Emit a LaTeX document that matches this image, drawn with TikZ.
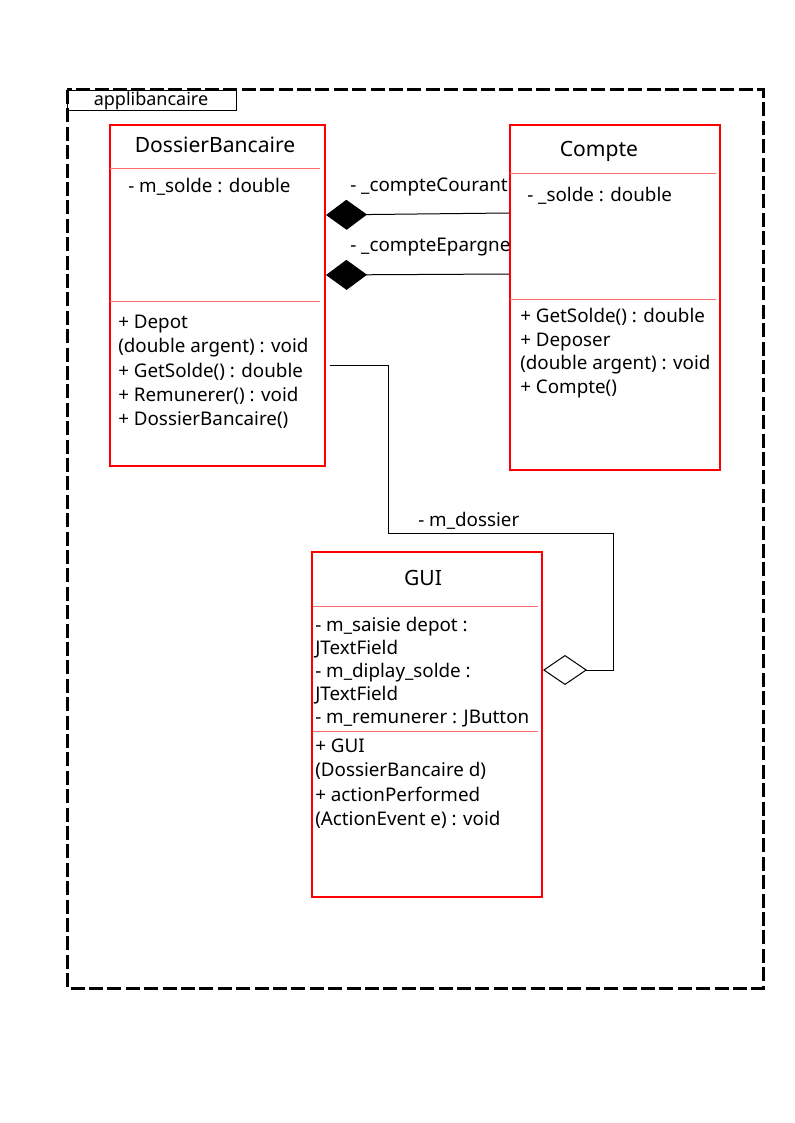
\documentclass[tikz,border=0pt]{standalone}
\usepackage{fontspec}
\setmainfont{Noto Sans}
\usetikzlibrary{arrows.meta}
\usetikzlibrary{calc}
\definecolor{umlred}{RGB}{255,0,0}
\definecolor{seplight}{RGB}{255,110,110}

\begin{document}
\begin{tikzpicture}[x=0.75pt,y=-0.75pt,
		classbox/.style={draw=umlred,line width=1.5pt,anchor=north west,inner sep=0pt},
		member/.style={anchor=base west,inner sep=0pt,font=\fontsize{14.1}{18}\selectfont},
		ctitle/.style={anchor=base,inner sep=0pt,font=\fontsize{15.8}{18}\selectfont},
		sepline/.style={draw=seplight,line width=0.75pt},
		comp/.style={line width=0.75pt,-{Diamond[length=30.75pt,width=22.5pt,fill=black]}},
		aggr/.style={line width=0.75pt,-{Diamond[open,length=33pt,width=22.5pt,fill=white]}}]
		\useasboundingbox (0,0) rectangle (794,1123);
		
		% package
		\draw[line width=2.25pt,dash pattern=on 10.5pt off 3.3pt] (67,90) rectangle (763,988);
		\node[draw,line width=0.75pt,anchor=north west,minimum width=126.75pt,minimum height=15pt,
		inner sep=0pt] (pkgtab) at (67,90) {};
		\node[anchor=base,inner sep=0pt,font=\fontsize{13.5}{16}\selectfont] (pkgname) at (151,106) {applibancaire};
		
		% DossierBancaire
		\node[classbox,minimum width=161.25pt,minimum height=255.75pt] (dossier) at (109,124) {};
		\node[ctitle] (dossiertitle) at (215,153) {DossierBancaire};
		\draw[sepline] (110,169) -- (320,169);
		\node[member] (dossierattr) at (128,193) {- m\_solde : double};
		\draw[sepline] (110,301) -- (320,301);
		\foreach \y/\txt [count=\i] in {328/+ Depot,352.5/(double argent) : void,
			377/+ GetSolde() : double,401/+ Remunerer() : void,425.5/+ DossierBancaire()}
		\node[member] (dossierop\i) at (118,\y) {\txt};
		
		% Compte
		\node[classbox,minimum width=157.5pt,minimum height=258.75pt] (compte) at (509,124) {};
		\node[ctitle] (comptetitle) at (599,157) {Compte};
		\draw[sepline] (510,174) -- (716,174);
		\node[member] (compteattr) at (527,202) {- \_solde : double};
		\draw[sepline] (510,299) -- (716,299);
		\foreach \y/\txt [count=\i] in {322/+ GetSolde() : double,346/+ Deposer,
			369.5/(double argent) : void,393/+ Compte()}
		\node[member] (compteop\i) at (520,\y) {\txt};
		
		% GUI
		\node[classbox,minimum width=172.5pt,minimum height=258.75pt] (gui) at (311,551) {};
		\node[ctitle] (guititle) at (423,585) {GUI};
		\draw[sepline] (313,606) -- (538,606);
		\foreach \y/\txt [count=\i] in {631.5/- m\_saisie depot :,654.5/JTextField,
			677.5/- m\_diplay\_solde :,700.5/JTextField,723.5/- m\_remunerer : JButton}
		\node[member] (guiattr\i) at (315,\y) {\txt};
		\draw[sepline] (313,731) -- (538,731);
		\foreach \y/\txt [count=\i] in {752/+ GUI,776.5/(DossierBancaire d),
			801/+ actionPerformed,825.5/(ActionEvent e) : void}
		\node[member] (guiop\i) at (315,\y) {\txt};
		
		% compositions
		\draw[comp] ($(compte.north west)+(0,89)$) -- ($(dossier.north east)+(0,91)$);
		\node[member] (courantlbl) at (350,192) {- \_compteCourant};
		\draw[comp] ($(compte.north west)+(0,150)$) -- ($(dossier.north east)+(0,151)$);
		\node[member] (epargnelbl) at (350,252) {- \_compteEpargne};
		
		% aggregation
		\coordinate (bendA) at (388,533);
		\coordinate (bendB) at (613,670);
		\draw[aggr] ($(dossier.north east)+(4,241)$) -| (bendA) -| (bendB)
		-- ($(gui.north east)+(0,119)$);
		\node[member] (dossierlbl) at (418,526) {- m\_dossier};
	\end{tikzpicture}
\end{document}
